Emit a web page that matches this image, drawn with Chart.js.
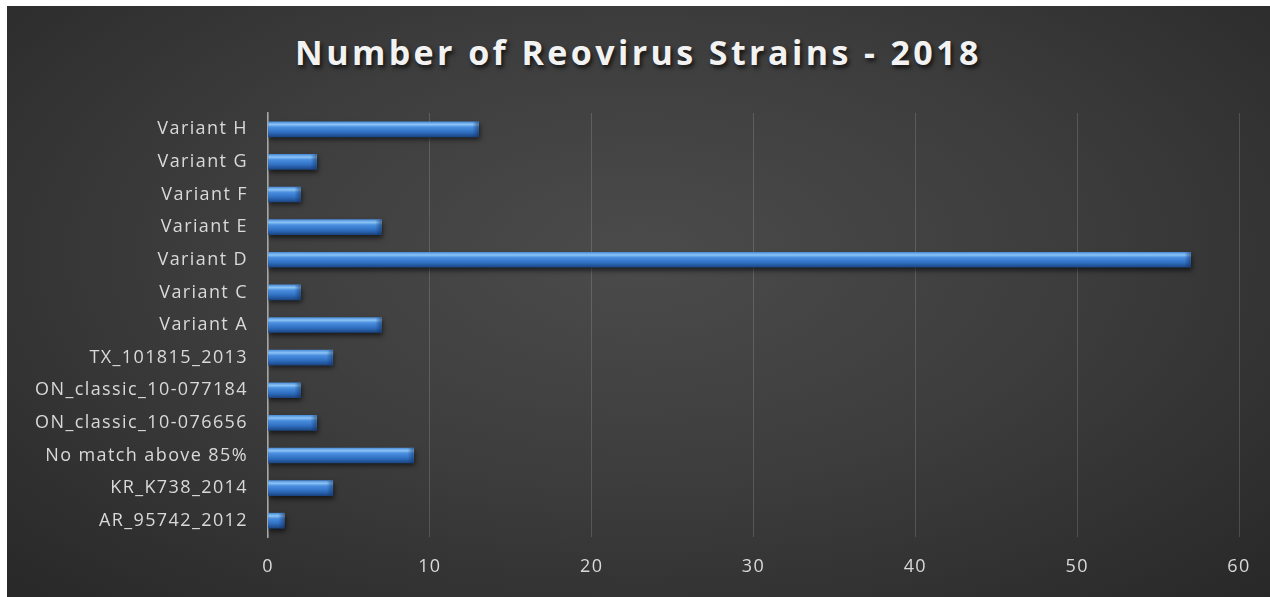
<!DOCTYPE html>
<html>
<head>
<meta charset="utf-8">
<script src="https://cdn.jsdelivr.net/npm/chart.js@4.4.1/dist/chart.umd.min.js"></script>
<style>
  html, body { margin: 0; padding: 0; background: #ffffff; }
  body { width: 1270px; height: 597px; position: relative; overflow: hidden; }
  #panel {
    position: absolute; left: 7px; top: 6px; width: 1263px; height: 591px;
    background: radial-gradient(ellipse 75% 85% at 50% 42%, #4b4b4b 0%, #3d3d3d 45%, #262626 100%);
  }
  #title {
    position: absolute; left: 0; top: 24px; width: 100%; text-align: center;
    font-family: "Open Sans", sans-serif; font-weight: 700; font-size: 34px;
    letter-spacing: 3.4px; color: #f2f2f2; line-height: 44px;
    text-shadow: 2px 3px 4px rgba(0, 0, 0, 0.7);
  }
  #chart { position: absolute; left: 0; top: 0; }
</style>
</head>
<body>
<div id="panel">
  <div id="title">Number of Reovirus Strains - 2018</div>
  <canvas id="chart" width="1263" height="591"></canvas>
</div>
<script>
// Datos del gráfico
const categories = ['Variant H', 'Variant G', 'Variant F', 'Variant E', 'Variant D', 'Variant C', 'Variant A',
    'TX_101815_2013', 'ON_classic_10-077184', 'ON_classic_10-076656', 'No match above 85%', 'KR_K738_2014', 'AR_95742_2012'];
const strainCounts = [13, 3, 2, 7, 57, 2, 7, 4, 2, 3, 9, 4, 1];
const xTicks = [0, 10, 20, 30, 40, 50, 60];

// Espaciado de letras en el canvas (estilo Calibri espaciado)
const letterSpacingPlugin = {
    id: 'letterSpacing',
    beforeUpdate(chart) { chart.ctx.letterSpacing = '1.4px'; },
    beforeDraw(chart) { chart.ctx.letterSpacing = '1.4px'; }
};

// Sombra debajo de las barras
const barShadowPlugin = {
    id: 'barShadow',
    beforeDatasetsDraw(chart) {
        const ctx = chart.ctx;
        ctx.save();
        ctx.shadowColor = 'rgba(0, 0, 0, 0.6)';
        ctx.shadowBlur = 5;
        ctx.shadowOffsetX = 1;
        ctx.shadowOffsetY = 3;
    },
    afterDatasetsDraw(chart) {
        const ctx = chart.ctx;
        ctx.restore();
        // bisel en el extremo derecho
        chart.getDatasetMeta(0).data.forEach(bar => {
            const h = bar.height;
            const top = bar.y - h / 2;
            const g = ctx.createLinearGradient(bar.x - 6, 0, bar.x, 0);
            g.addColorStop(0, 'rgba(20, 50, 100, 0)');
            g.addColorStop(1, 'rgba(20, 50, 100, 0.55)');
            ctx.fillStyle = g;
            ctx.fillRect(bar.x - 6, top, 6, h);
        });
    }
};

// Degradado vertical para cada barra
function barGradient(context) {
    const chart = context.chart;
    const yScale = chart.scales.y;
    if (!yScale) return '#3b7fd0';
    const cy = yScale.getPixelForValue(context.dataIndex);
    if (!Number.isFinite(cy)) return '#3b7fd0';
    const half = 7.5;
    const g = chart.ctx.createLinearGradient(0, cy - half, 0, cy + half);
    g.addColorStop(0, '#4d8fdc');
    g.addColorStop(0.18, '#8cc4f5');
    g.addColorStop(0.35, '#4a8fe0');
    g.addColorStop(0.7, '#2f6ec0');
    g.addColorStop(1, '#1b4683');
    return g;
}

const tickFont = { family: "'Open Sans', sans-serif", size: 18 };

new Chart(document.getElementById('chart'), {
    type: 'bar',
    data: {
        labels: categories,
        datasets: [{
            data: strainCounts,
            backgroundColor: barGradient,
            borderWidth: 0,
            barThickness: 15
        }]
    },
    plugins: [letterSpacingPlugin, barShadowPlugin],
    options: {
        indexAxis: 'y',
        responsive: false,
        animation: false,
        layout: { padding: { top: 107, right: 31, bottom: 0, left: 0 } },
        plugins: {
            legend: { display: false },
            title: { display: false },
            tooltip: { enabled: false }
        },
        scales: {
            x: {
                min: 0,
                max: 60,
                afterBuildTicks(scale) { scale.ticks = xTicks.map(v => ({ value: v })); },
                afterFit(scale) { scale.height = 60; },
                grid: { color: 'rgba(255, 255, 255, 0.15)', lineWidth: 1, drawTicks: false },
                border: { display: false },
                ticks: { color: '#d9d9d9', font: tickFont, padding: 19 }
            },
            y: {
                afterFit(scale) { scale.width = 261; },
                grid: { display: false, drawTicks: false },
                border: { display: true, color: '#a6a6a6', width: 1.5 },
                ticks: { color: '#d9d9d9', font: tickFont, padding: 20 }
            }
        }
    }
});
</script>
</body>
</html>
